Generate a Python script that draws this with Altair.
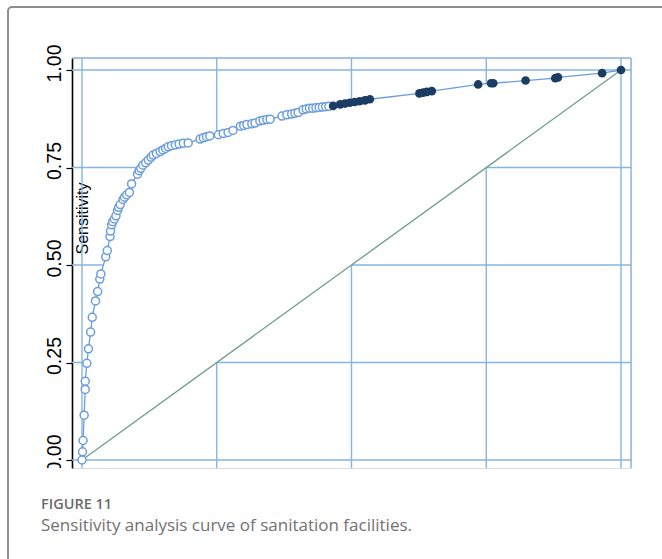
import altair as alt
import pandas as pd

# ---- data (1 - specificity, sensitivity) ----
fpr_open = [0.000, 0.001, 0.002, 0.004, 0.006, 0.006, 0.009, 0.012, 0.016, 0.019,
            0.025, 0.029, 0.033, 0.035, 0.044, 0.047, 0.052, 0.053, 0.055, 0.057,
            0.060, 0.063, 0.066, 0.068, 0.071, 0.076, 0.079, 0.083, 0.088, 0.092,
            0.103, 0.106, 0.109, 0.113, 0.118, 0.123, 0.128, 0.132, 0.138, 0.145,
            0.150, 0.155, 0.160, 0.166, 0.173, 0.180, 0.188, 0.197, 0.219, 0.225,
            0.231, 0.237, 0.253, 0.262, 0.271, 0.280, 0.294, 0.300, 0.306, 0.315,
            0.321, 0.330, 0.336, 0.343, 0.349, 0.371, 0.380, 0.389, 0.395, 0.401,
            0.410, 0.416, 0.422, 0.428, 0.434, 0.440, 0.446, 0.452, 0.458]
tpr_open = [0.000, 0.021, 0.050, 0.115, 0.181, 0.202, 0.248, 0.285, 0.328, 0.366,
            0.408, 0.432, 0.464, 0.477, 0.521, 0.537, 0.573, 0.587, 0.603, 0.611,
            0.618, 0.626, 0.640, 0.648, 0.655, 0.668, 0.674, 0.680, 0.686, 0.708,
            0.733, 0.742, 0.748, 0.756, 0.762, 0.769, 0.776, 0.782, 0.786, 0.791,
            0.795, 0.799, 0.803, 0.806, 0.808, 0.810, 0.812, 0.813, 0.823, 0.826,
            0.829, 0.831, 0.834, 0.837, 0.840, 0.845, 0.856, 0.858, 0.860, 0.862,
            0.864, 0.869, 0.871, 0.873, 0.874, 0.882, 0.885, 0.887, 0.889, 0.891,
            0.898, 0.900, 0.902, 0.902, 0.903, 0.904, 0.905, 0.906, 0.907]
fpr_filled = [0.466, 0.479, 0.488, 0.497, 0.506, 0.515, 0.525, 0.534, 0.626, 0.633,
              0.640, 0.649, 0.735, 0.759, 0.763, 0.823, 0.878, 0.883, 0.965, 1.000]
tpr_filled = [0.908, 0.912, 0.914, 0.916, 0.918, 0.920, 0.922, 0.925, 0.940, 0.942,
              0.944, 0.946, 0.963, 0.966, 0.966, 0.973, 0.979, 0.981, 0.992, 1.000]

tick_values = [0.0, 0.25, 0.5, 0.75, 1.0]
y_title = "Sensitivity"
caption_label = "FIGURE 11"
caption_text = "Sensitivity analysis curve of sanitation facilities."

# ---- tables ----
df_open = pd.DataFrame({"fpr": fpr_open, "tpr": tpr_open})
df_filled = pd.DataFrame({"fpr": fpr_filled, "tpr": tpr_filled})
df_all = pd.concat([df_open, df_filled], ignore_index=True)
df_all["diag"] = df_all["fpr"]
df_ref = pd.DataFrame({"fpr": [0.0, 1.0], "tpr": [0.0, 1.0]})
df_ticks = pd.DataFrame({"tpr": tick_values, "fpr": tick_values})
df_one = pd.DataFrame({"a": [0]})

GRID = "#86b5e5"
LINE = "#6a9edb"
DARK = "#1b3d63"
DIAG = "#6e9e8c"

xs = alt.Scale(domain=[-0.01855, 1.01855], nice=False, zero=False)
ys = alt.Scale(domain=[-0.0205, 1.0308], nice=False, zero=False)

y_axis = alt.Axis(values=tick_values, format=".2f", labelAngle=270,
                  labelAlign="center", labelBaseline="alphabetic",
                  labelFontSize=19.5, labelFont="Liberation Sans", labelColor="black",
                  labelPadding=6, labelOffset=-7, tickSize=6, tickColor="black",
                  tickWidth=1.2, domainColor="black", domainWidth=1.6,
                  grid=False,
                  title=y_title, titleAngle=270, titleX=10, titleY=160,
                  titleAlign="center", titleBaseline="middle", titleFontSize=16,
                  titleFontWeight="normal", titleFont="Liberation Sans",
                  titleColor="black", zindex=0)

XS = alt.X("fpr:Q", scale=xs, axis=None)
YS = alt.Y("tpr:Q", scale=ys, axis=y_axis)

# grid lines drawn as rules so the white area can hide part of them
vgrid = alt.Chart(df_ticks).mark_rule(color=GRID, strokeWidth=1.4).encode(
    x=XS, y=alt.value(0), y2=alt.value(410))
hgrid = alt.Chart(df_ticks).mark_rule(color=GRID, strokeWidth=1.4).encode(
    y=YS, x=alt.value(0), x2=alt.value(559))

# white area between curve and chance line (hides grid there)
area = alt.Chart(df_all).mark_area(color="white", fill="white", opacity=1,
                                   interpolate="linear").encode(
    x=XS, y=YS, y2="diag")

diag = alt.Chart(df_ref).mark_line(color=DIAG, strokeWidth=1.3).encode(x=XS, y=YS)

curve = alt.Chart(df_all).mark_line(color=LINE, strokeWidth=1.3).encode(x=XS, y=YS)

pts_open = alt.Chart(df_open).mark_point(shape="circle", filled=False, fill="white",
                                         fillOpacity=1, stroke=LINE, strokeWidth=1.5,
                                         size=64, opacity=1).encode(x=XS, y=YS)

pts_filled = alt.Chart(df_filled).mark_circle(color=DARK, size=75, opacity=1).encode(
    x=XS, y=YS)

# plot frame (top and right)
frame_top = alt.Chart(df_one).mark_rule(color=GRID, strokeWidth=1.4).encode(
    x=alt.value(0), x2=alt.value(559), y=alt.value(0))
frame_right = alt.Chart(df_one).mark_rule(color=GRID, strokeWidth=1.4).encode(
    x=alt.value(559), y=alt.value(0), y2=alt.value(410))

# crop of the bottom label, as in the reference image
crop = alt.Chart(df_one).mark_rect(color="white").encode(
    x=alt.value(-58), x2=alt.value(-1), y=alt.value(410), y2=alt.value(440))

# outer panel border
border = alt.Chart(df_one).mark_rect(fillOpacity=0, stroke="#8e8e8e", strokeWidth=2,
                                     cornerRadius=4).encode(
    x=alt.value(-64), x2=alt.value(620), y=alt.value(-51), y2=alt.value(560))

cap1 = alt.Chart(df_one).mark_text(text=caption_label, align="left", baseline="alphabetic",
                                   font="Open Sans", fontSize=14.5, fontWeight=600,
                                   color="#6b6b6b").encode(
    x=alt.value(-31), y=alt.value(451))
cap2 = alt.Chart(df_one).mark_text(text=caption_text, align="left", baseline="alphabetic",
                                   font="Open Sans", fontSize=17, fontWeight=400,
                                   color="#727272").encode(
    x=alt.value(-31), y=alt.value(473))

chart = alt.layer(
    vgrid, hgrid, frame_top, frame_right, area, diag, curve, pts_open, pts_filled,
    crop, border, cap1, cap2
).properties(
    width=559, height=410,
    padding={"left": 72, "top": 58, "right": 31, "bottom": 91},
    autosize=alt.AutoSizeParams(type="none"),
).configure_view(stroke=None).configure(background="white")

chart.save("out.html", embed_options={"renderer": "svg", "actions": False})
